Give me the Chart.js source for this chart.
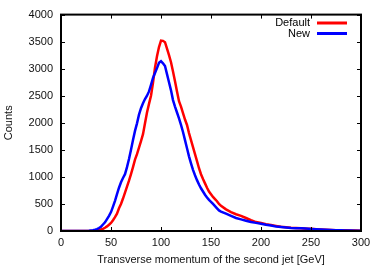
<!DOCTYPE html>
<html>
<head>
<meta charset="utf-8">
<script src="https://cdn.jsdelivr.net/npm/chart.js@4.4.1/dist/chart.umd.min.js"></script>
<style>
  html, body { margin: 0; padding: 0; background: #fff; }
  #wrap { width: 381px; height: 267px; }
</style>
</head>
<body>
<div id="wrap"><canvas id="c" width="381" height="267"></canvas></div>
<script>
// pT of the second jet, GeV (bin positions)
const ptBins = [
  0, 2, 4, 6, 8, 10, 12, 14, 16, 18, 20, 22, 24, 26, 28, 30, 32, 34, 36, 38,
  40, 42, 44, 46, 48, 50, 52, 54, 56, 58, 60, 62, 64, 66, 68, 70, 72, 74, 76, 78,
  80, 82, 84, 86, 88, 90, 92, 94, 96, 98, 100, 102, 104, 106, 108, 110, 112, 114, 116, 118,
  120, 122, 124, 126, 128, 130, 132, 134, 136, 138, 140, 142, 144, 146, 148, 150, 152, 154, 156, 158,
  160, 165, 170, 175, 180, 185, 190, 195, 200, 205, 210, 215, 220, 225, 230, 235, 240, 245, 250, 255,
  260, 265, 270, 275, 280, 285, 290, 295, 300
];
const defaultCounts = [
  0, 0, 0, 0, 0, 0, 0, 0, 0, 0, 0, 0, 0, 0, 0, 0, 2, 5, 10, 20,
  30, 40, 60, 85, 115, 150, 200, 255, 320, 420, 500, 600, 710, 820, 930, 1050, 1180, 1320, 1420, 1540,
  1660, 1790, 1990, 2190, 2350, 2500, 2740, 3020, 3230, 3400, 3520, 3515, 3490, 3370, 3250, 3120, 2950, 2770, 2580, 2400,
  2300, 2180, 2060, 1960, 1810, 1680, 1550, 1420, 1290, 1160, 1050, 960, 880, 800, 730, 680, 630, 590, 550, 500,
  465, 400, 350, 310, 280, 240, 200, 165, 150, 125, 110, 95, 80, 70, 60, 55, 50, 42, 40, 32,
  28, 25, 20, 16, 14, 12, 10, 8, 6
];
const newCounts = [
  0, 0, 0, 0, 0, 0, 0, 0, 0, 0, 0, 0, 0, 2, 5, 10, 15, 24, 35, 55,
  80, 120, 160, 220, 280, 350, 450, 557, 680, 800, 900, 980, 1050, 1180, 1330, 1500, 1680, 1850, 1990, 2150,
  2270, 2360, 2440, 2500, 2580, 2700, 2830, 2920, 3010, 3110, 3140, 3100, 3050, 2900, 2750, 2600, 2420, 2300, 2190, 2080,
  1960, 1830, 1680, 1530, 1380, 1250, 1130, 1030, 940, 860, 790, 730, 670, 620, 575, 540, 500, 460, 420, 380,
  360, 320, 280, 240, 215, 190, 165, 150, 135, 115, 100, 85, 75, 65, 55, 50, 50, 45, 38, 32,
  28, 22, 18, 15, 12, 10, 8, 6, 5
];
const seriesNames = ['Default', 'New'];
const xTicks = [0, 50, 100, 150, 200, 250, 300];
const yTicks = [0, 500, 1000, 1500, 2000, 2500, 3000, 3500, 4000];

const FONT = { family: 'Liberation Sans, Arial, sans-serif', size: 11 };

function pts(ys) {
  return ptBins.map((x, i) => ({ x, y: ys[i] }));
}

// gnuplot style frame: border plus inward ticks on all four sides
const frame = {
  id: 'frame',
  afterDraw(chart) {
    const { ctx, chartArea: a, scales: { x, y } } = chart;
    ctx.save();
    ctx.strokeStyle = '#000';
    ctx.lineWidth = 1;
    ctx.beginPath();
    xTicks.forEach((v) => {
      const px = Math.round(x.getPixelForValue(v)) + 0.5;
      ctx.moveTo(px, a.bottom); ctx.lineTo(px, a.bottom - 4);
      ctx.moveTo(px, a.top); ctx.lineTo(px, a.top + 4);
    });
    yTicks.forEach((v) => {
      const py = Math.round(y.getPixelForValue(v)) + 0.5;
      ctx.moveTo(a.left, py); ctx.lineTo(a.left + 4, py);
      ctx.moveTo(a.right, py); ctx.lineTo(a.right - 4, py);
    });
    ctx.stroke();
    ctx.lineWidth = 2;
    ctx.strokeRect(a.left, a.top, a.right - a.left, a.bottom - a.top);

    // key, top right
    ctx.font = `${FONT.size}px ${FONT.family}`;
    ctx.fillStyle = '#000';
    ctx.textAlign = 'right';
    ctx.textBaseline = 'middle';
    chart.data.datasets.forEach((ds, i) => {
      const ly = 23 + i * 10.5;
      ctx.fillText(ds.label, 310, ly);
      ctx.strokeStyle = ds.borderColor;
      ctx.lineWidth = 3;
      ctx.beginPath();
      ctx.moveTo(317, ly); ctx.lineTo(347, ly);
      ctx.stroke();
    });
    ctx.restore();
  },
};

new Chart(document.getElementById('c'), {
  type: 'line',
  data: {
    datasets: [
      { label: seriesNames[0], data: pts(defaultCounts), borderColor: '#ff0000', borderWidth: 2.5, pointRadius: 0, order: 1 },
      { label: seriesNames[1], data: pts(newCounts), borderColor: '#0000ff', borderWidth: 2.5, pointRadius: 0, order: 0 },
    ],
  },
  options: {
    responsive: false,
    animation: false,
    events: [],
    layout: { padding: { top: 13, right: 20, left: 0, bottom: 0 } },
    plugins: { legend: { display: false }, tooltip: { enabled: false } },
    scales: {
      x: {
        type: 'linear', min: 0, max: 300,
        afterFit: (s) => { s.height = 36; },
        afterBuildTicks: (s) => { s.ticks = xTicks.map((v) => ({ value: v })); },
        grid: { display: false, drawTicks: false },
        border: { display: false },
        ticks: { color: '#111', font: FONT, padding: 5, maxRotation: 0, callback: (v) => String(v) },
        title: { display: true, text: 'Transverse momentum of the second jet [GeV]', color: '#111', font: FONT, padding: { top: 0, bottom: 0 } },
      },
      y: {
        type: 'linear', min: 0, max: 4000,
        afterFit: (s) => { s.width = 61; },
        afterBuildTicks: (s) => { s.ticks = yTicks.map((v) => ({ value: v })); },
        grid: { display: false, drawTicks: false },
        border: { display: false },
        ticks: { color: '#111', font: FONT, padding: 8, callback: (v) => String(v) },
        title: { display: true, text: 'Counts', color: '#111', font: FONT, padding: { top: 2, bottom: 0 } },
      },
    },
  },
  plugins: [frame],
});
</script>
</body>
</html>
